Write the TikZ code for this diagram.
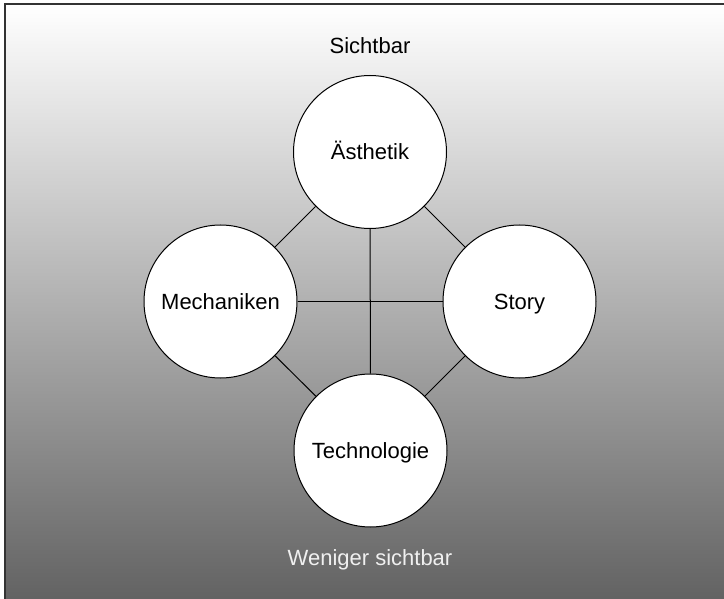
\documentclass[tikz,border=0pt]{standalone}
\usepackage{fontspec}
\setmainfont{Liberation Sans}
\usepackage{tikz}
\usepackage{xcolor}

\begin{document}
\begin{tikzpicture}[x=1pt, y=-1pt,
    font=\fontsize{22}{26}\selectfont,
    every node/.style={circle, draw, line width=1pt, fill=white, minimum size=153pt, inner sep=0pt,
                       text height=15.7pt, text depth=0pt}]
                \useasboundingbox (0,0) rectangle (724,599);
                \clip (0,0) rectangle (724,599);
                \shade[top color=white, bottom color=black!63] (5,4) rectangle (740,615);
                \draw[line width=1.6pt, black!80] (5,4) rectangle (740,615);

                \node[draw=none, fill=none, minimum size=0pt] (top) at (370,46) {Sichtbar};
                \node[draw=none, fill=none, minimum size=0pt, text=white!94!black] (bottom) at (370,558) {Weniger sichtbar};

                \node (A) at (370,152) {Ästhetik};
                \node (M) at (220.5,301.5) {Mechaniken};
                \node (S) at (519.5,301.5) {Story};
                \node (T) at (370.5,450.5) {Technologie};

                \draw[line width=1pt] (A) -- (M);
                \draw[line width=1pt] (A) -- (S);
                \draw[line width=1pt] (A) -- (T);
                \draw[line width=1pt] (M) -- (S);
                \draw[line width=1pt] (M) -- (T);
                \draw[line width=1pt] (S) -- (T);
            \end{tikzpicture}
\end{document}
